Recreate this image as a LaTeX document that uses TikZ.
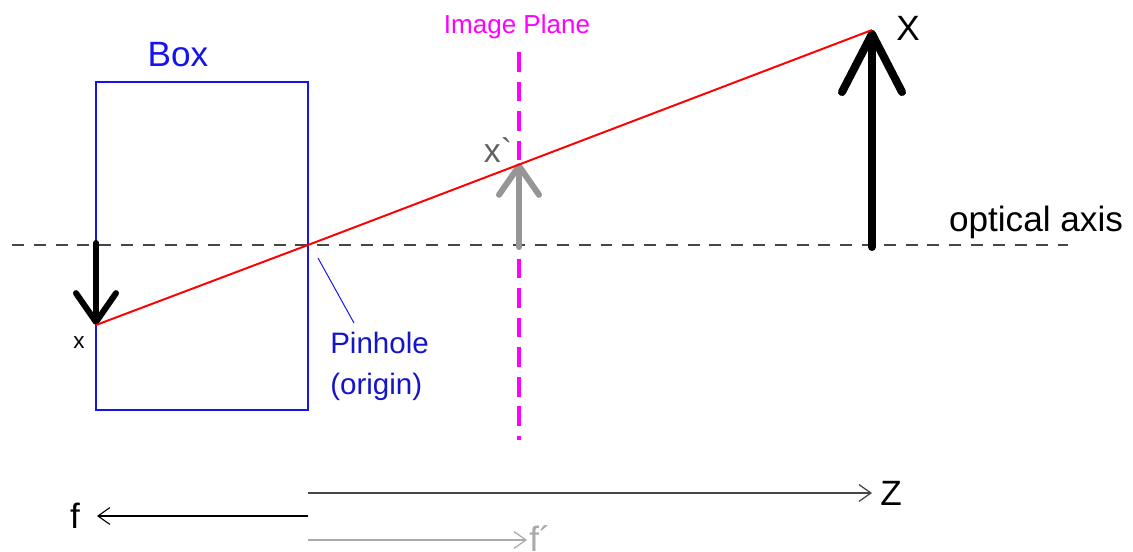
\documentclass[tikz,border=0pt]{standalone}
\usepackage{fontspec}
\setmainfont{Liberation Sans}
\usetikzlibrary{arrows.meta}
\definecolor{boxblue}{RGB}{20,20,235}
\definecolor{lblblue}{RGB}{20,20,200}
\definecolor{mag}{RGB}{255,0,255}
\definecolor{midgray}{RGB}{150,150,150}
\definecolor{lightgray2}{RGB}{170,170,170}
\definecolor{axisgray}{RGB}{70,70,70}
\begin{document}
\begin{tikzpicture}[x=0.025cm,y=-0.025cm,
  lbl/.style={inner sep=0pt},
  fbig/.style={font=\fontsize{25}{28}\selectfont},
  fmid/.style={font=\fontsize{21}{24}\selectfont},
  fsmall/.style={font=\fontsize{18.5}{21}\selectfont},
  boxline/.style={draw=boxblue, line width=1.4pt},
  ray/.style={draw=red, line width=1.4pt},
  axis/.style={draw=axisgray, line width=0.8pt, dash pattern=on 8.5pt off 7pt},
  plane/.style={draw=mag, line width=2.8pt, dash pattern=on 14pt off 7pt},
  thickarrow/.style={line width=4.3pt, line cap=round, -{Straight Barb[length=0.72cm, width=1.0cm, round]}},
  hugearrow/.style={line width=5.7pt, line cap=round, -{Straight Barb[length=1.45cm, width=1.5cm, round]}},
  thinarrow/.style={line width=0.9pt, -{Straight Barb[length=8.5pt, width=12pt]}}
]
\useasboundingbox (0,0) rectangle (1133,552);

% coordinates
\coordinate (boxTL) at (96,82);
\coordinate (boxBR) at (308,410);
\coordinate (axL) at (12,245);
\coordinate (axR) at (1068,245);
\coordinate (pin) at (308,245);
\coordinate (xbase) at (96,243);
\coordinate (xtip) at (96,325);
\coordinate (Xbase) at (872,247);
\coordinate (Xtip) at (872,30);
\coordinate (ipTop) at (519,52);
\coordinate (ipBot) at (519,440);
\coordinate (xpbase) at (519,247);
\coordinate (xptip) at (519,163);
\coordinate (leadA) at (318,258);
\coordinate (leadB) at (354,323);
\coordinate (zS) at (308,493);
\coordinate (zE) at (872,493);
\coordinate (fS) at (308,516);
\coordinate (fE) at (97,516);
\coordinate (fpS) at (308,540);
\coordinate (fpE) at (527,540);

% box
\draw[boxline] (boxTL) rectangle (boxBR);
\node[lbl, fbig, text=boxblue] (boxlbl) at (178,55) {Box};

% optical axis
\draw[axis] (axL) -- (axR);
\node[lbl, fbig] (axlbl) at (1036,222) {optical axis};

% image plane
\draw[plane] (ipTop) -- (ipBot);
\node[lbl, fsmall, text=mag] (iplbl) at (517,27) {Image Plane};

% arrows
\draw[midgray, thickarrow] (xpbase) -- (xptip);
\draw[black, thickarrow] (xbase) -- (xtip);
\draw[black, hugearrow] (Xbase) -- (Xtip);

% ray
\draw[ray] (xtip) -- (pin) -- (Xtip);

% labels
\node[lbl, font=\fontsize{16}{18}\selectfont] (xlbl) at (79,343) {x};
\node[lbl, font=\fontsize{24}{26}\selectfont, text=black!62] (xplbl) at (498,150) {x\textasciigrave};
\node[lbl, fbig] (Xlbl) at (908,28) {X};

% pinhole leader
\draw[boxblue, line width=0.7pt] (leadA) -- (leadB);
\node[lbl, fmid, text=lblblue, align=left, anchor=west] (pinlbl) at (330,366) {Pinhole\\[5pt](origin)};

% bottom arrows
\draw[axisgray, thinarrow] (zS) -- (zE);
\node[lbl, fbig, anchor=west] (zlbl) at (880,493) {Z};
\draw[black, thinarrow, line width=0.8pt] (fS) -- (fE);
\node[lbl, fbig] (flbl) at (75,516) {f};
\draw[lightgray2, thinarrow] (fpS) -- (fpE);
\node[lbl, fbig, text=lightgray2, anchor=west] (fplbl) at (529,539) {f´};
\end{tikzpicture}
\end{document}
